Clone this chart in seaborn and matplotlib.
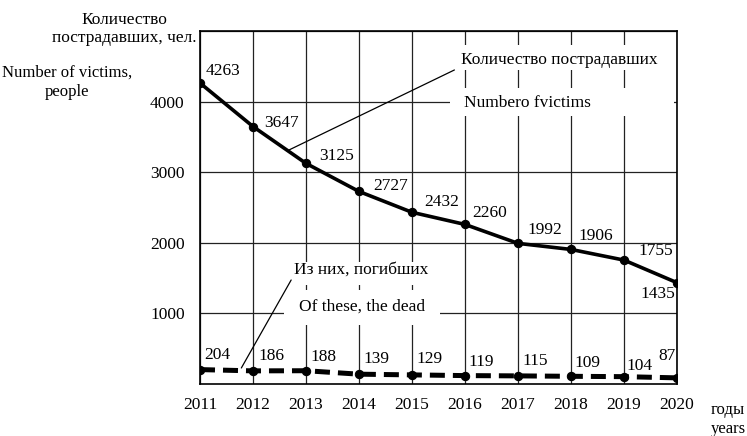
import matplotlib
matplotlib.use("Agg")
import matplotlib.pyplot as plt
from matplotlib.patches import Rectangle
import seaborn as sns
import pandas as pd

years = [2011, 2012, 2013, 2014, 2015, 2016, 2017, 2018, 2019, 2020]
victims = [4263, 3647, 3125, 2727, 2432, 2260, 1992, 1906, 1755, 1435]
dead = [204, 186, 188, 139, 129, 119, 115, 109, 104, 87]
yticks = [1000, 2000, 3000, 4000, 5000]
ytick_labels = ["1000", "2000", "3000", "4000", ""]

# label offsets in pixels (dx, dy), separate from data
victim_offsets = [(6, 12), (11, 4), (13, 7), (14, 5), (12, 10), (7, 11), (9, 13), (7, 13), (14, 9), (-37, -11)]
dead_offsets = [(4, 15), (5, 15), (4, 14), (4, 15), (4, 16), (3, 14), (4, 15), (3, 13), (2, 11), (-19, 22)]

sns.set_theme(style="white")
plt.rcParams["font.family"] = ["Liberation Serif", "DejaVu Serif"]
plt.rcParams["text.color"] = "black"

W, H = 747, 436
fig = plt.figure(figsize=(W / 100, H / 100), dpi=100)
ax = fig.add_axes([200 / W, 1 - 384 / H, (677 - 200) / W, (384 - 31) / H])

df = pd.DataFrame({"year": years, "victims": victims, "dead": dead})

sns.lineplot(data=df, x="year", y="victims", ax=ax, color="black", linewidth=2.6,
             marker="o", markersize=6, markeredgecolor="black", zorder=3)
sns.lineplot(data=df, x="year", y="dead", ax=ax, color="black", linewidth=3.6,
             linestyle=(0, (3.0, 1.6)), marker="o", markersize=6,
             markeredgecolor="black", zorder=3)

ax.set_xlim(2011, 2020)
ax.set_ylim(0, 5000)
ax.set_xticks(years)
ax.set_xticklabels([str(y) for y in years], fontsize=12.5)
ax.set_yticks(yticks)
ax.set_yticklabels(ytick_labels, fontsize=12.5)
ax.set_xlabel("")
ax.set_ylabel("")
ax.set_axisbelow(True)
ax.grid(True, color="#222222", linewidth=0.9)
for s in ax.spines.values():
    s.set_visible(True)
    s.set_color("black")
    s.set_linewidth(1.2)
ax.tick_params(axis="y", direction="out", length=8, width=0.9, color="black", pad=3, labelcolor="black")
ax.tick_params(axis="x", direction="out", length=5, width=0.9, color="black", pad=4, labelcolor="black")

# value labels
for x, v, (dx, dy) in zip(years, victims, victim_offsets):
    ax.annotate(str(v), (x, v), xytext=(dx, dy), textcoords="offset pixels",
                ha="left", va="center", fontsize=12.5, zorder=4)
for x, v, (dx, dy) in zip(years, dead, dead_offsets):
    ax.annotate(str(v), (x, v), xytext=(dx, dy), textcoords="offset pixels",
                ha="left", va="center", fontsize=12.5, zorder=4)

# white boxes behind callout texts (cover grid)
for (x0, y0, x1, y1) in [(2015.71, 3796, 2019.95, 4193), (2015.78, 4450, 2019.95, 4800),
                         (2012.59, 836, 2015.52, 1331), (2012.70, 1402, 2015.3, 1728)]:
    ax.add_patch(Rectangle((x0, y0), x1 - x0, y1 - y0, facecolor="white",
                           edgecolor="none", zorder=1))

# callouts
ax.plot([2015.80, 2012.68], [4448, 3315], color="black", linewidth=0.9, zorder=2)
ax.text(2015.93, 4590, "Количество пострадавших", fontsize=12.5, ha="left", va="center", zorder=4)
ax.text(2015.99, 3980, "Numbero fvictims", fontsize=12.5, ha="left", va="center", zorder=4)
ax.plot([2012.72, 2011.78], [1473, 227], color="black", linewidth=0.9, zorder=2)
ax.text(2012.78, 1615, "Из них, погибших", fontsize=12.5, ha="left", va="center", zorder=4)
ax.text(2012.87, 1091, "Of these, the dead", fontsize=12.5, ha="left", va="center", zorder=4)

# axis titles
fig.text(124 / W, 1 - 29 / H, "Количество\nпострадавших, чел.", ha="center", va="center",
         fontsize=12.5, linespacing=1.25)
fig.text(67 / W, 1 - 82.5 / H, "Number of victims,\npeople", ha="center", va="center",
         fontsize=12, linespacing=1.25)
fig.text(711 / W, 1 - 419.5 / H, "годы\nyears", ha="left", va="center",
         fontsize=12, linespacing=1.2)

fig.savefig("out.png", dpi=100)
